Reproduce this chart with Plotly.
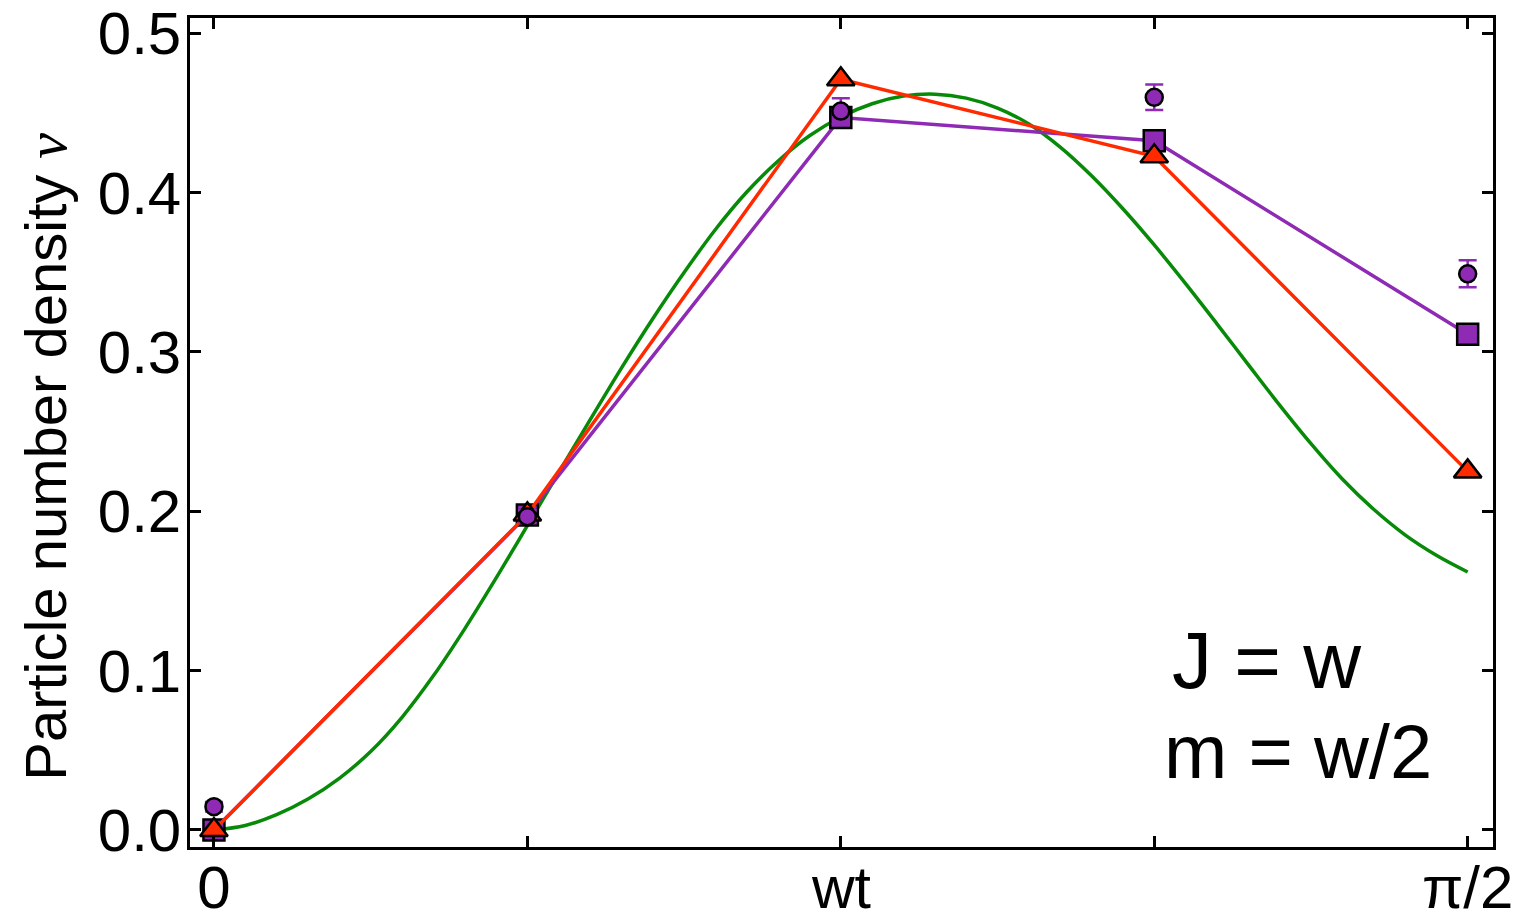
import plotly.graph_objects as go

# x positions as fractions of pi/2
x_pts = [0.0, 0.25, 0.5, 0.75, 1.0]

# purple circles with error bars
circ_y = [0.0146, 0.1966, 0.4511, 0.4597, 0.349]
circ_err = [0.003, 0.004, 0.008, 0.008, 0.0085]

# purple squares (line)
sq_y = [0.0, 0.1976, 0.447, 0.4325, 0.311]

# red triangles (line)
tri_y = [0.0, 0.198, 0.4711, 0.4227, 0.225]

# green smooth curve (x as fraction of pi/2)
green_x = [0.000, 0.025, 0.050, 0.075, 0.100, 0.125, 0.150, 0.175, 0.200, 0.225,
           0.250, 0.275, 0.300, 0.325, 0.350, 0.375, 0.400, 0.425, 0.450, 0.475,
           0.500, 0.525, 0.550, 0.575, 0.600, 0.625, 0.650, 0.675, 0.700, 0.725,
           0.750, 0.775, 0.800, 0.825, 0.850, 0.875, 0.900, 0.925, 0.950, 0.975,
           1.000]
green_y = [0.0000, 0.0028, 0.0096, 0.0194, 0.0324, 0.0492, 0.0707, 0.0967, 0.1262, 0.1580,
           0.1910, 0.2243, 0.2573, 0.2898, 0.3208, 0.3498, 0.3768, 0.4003, 0.4198, 0.4356,
           0.4474, 0.4557, 0.4605, 0.4617, 0.4592, 0.4530, 0.4430, 0.4285, 0.4105, 0.3898,
           0.3671, 0.3428, 0.3176, 0.2920, 0.2666, 0.2424, 0.2202, 0.2012, 0.1852, 0.1724,
           0.1619]

x_tickvals = [0.0, 0.25, 0.5, 0.75, 1.0]
x_ticktext = ["0", "", "", "", "π/2"]
y_tickvals = [0.0, 0.1, 0.2, 0.3, 0.4, 0.5]
y_ticktext = ["0.0", "0.1", "0.2", "0.3", "0.4", "0.5"]

PURPLE = "#8e2ab4"
RED = "#ff2a00"
GREEN = "#078a07"
FONT = "Liberation Sans, Arial, Helvetica, sans-serif"

fig = go.Figure()
fig.add_trace(go.Scatter(x=green_x, y=green_y, mode="lines",
                         line=dict(color=GREEN, width=3.5, shape="spline", smoothing=1.0),
                         showlegend=False))
fig.add_trace(go.Scatter(x=x_pts, y=sq_y, mode="lines+markers",
                         line=dict(color=PURPLE, width=3.5),
                         marker=dict(symbol="square", size=21, color=PURPLE,
                                     line=dict(color="black", width=2.5)),
                         showlegend=False))
fig.add_trace(go.Scatter(x=x_pts, y=tri_y, mode="lines+markers",
                         line=dict(color=RED, width=3.5),
                         marker=dict(symbol="triangle-up", size=24, color=RED,
                                     line=dict(color="black", width=2.5)),
                         showlegend=False))
fig.add_trace(go.Scatter(x=x_pts, y=circ_y, mode="markers",
                         error_y=dict(type="data", array=circ_err, visible=True,
                                      color=PURPLE, thickness=2.5, width=9),
                         marker=dict(symbol="circle", size=17, color=PURPLE,
                                     line=dict(color="black", width=2.5)),
                         showlegend=False))

axis_common = dict(ticks="inside", ticklen=11, tickwidth=2.5, tickcolor="black",
                   showline=True, linewidth=2.5, linecolor="black", mirror="ticks",
                   showgrid=False, zeroline=False, automargin=False,
                   tickfont=dict(size=60, family=FONT, color="black"))

fig.update_xaxes(range=[-0.0191, 1.0202], tickvals=x_tickvals, ticktext=x_ticktext,
                 ticklabelstandoff=-14, **axis_common)
fig.update_yaxes(range=[-0.0107, 0.5095], tickvals=y_tickvals, ticktext=y_ticktext,
                 ticklabelstandoff=-6, **axis_common)

fig.add_annotation(text="wt", x=0.5, xref="x", y=-0.050, yref="paper",
                   showarrow=False, xanchor="center", yanchor="middle",
                   font=dict(size=59, family=FONT, color="black"))
fig.add_annotation(text="Particle number density "
                        "<span style='font-family:Liberation Serif'><i>ν</i></span>",
                   x=-0.1105, xref="paper", y=0.4707, yref="paper",
                   textangle=-90, showarrow=False, xanchor="center", yanchor="middle",
                   font=dict(size=58, family=FONT, color="black"))
fig.add_annotation(text="J = w", x=(1170 - 190) / 1303, xref="paper",
                   y=(847 - 661) / 828.5, yref="paper",
                   showarrow=False, xanchor="left", yanchor="middle",
                   font=dict(size=80, family=FONT, color="black"))
fig.add_annotation(text="m = w/2", x=(1162 - 190) / 1303, xref="paper",
                   y=(847 - 752) / 828.5, yref="paper",
                   showarrow=False, xanchor="left", yanchor="middle",
                   font=dict(size=76, family=FONT, color="black"))

fig.update_layout(width=1520, height=920,
                  margin=dict(l=190, r=27, t=18, b=73),
                  plot_bgcolor="white", paper_bgcolor="white",
                  font=dict(family=FONT, color="black"))

fig.write_html("out.html", config={"displayModeBar": False},
               post_script="document.body.style.margin='0px';"
                           "document.body.style.overflow='hidden';")
